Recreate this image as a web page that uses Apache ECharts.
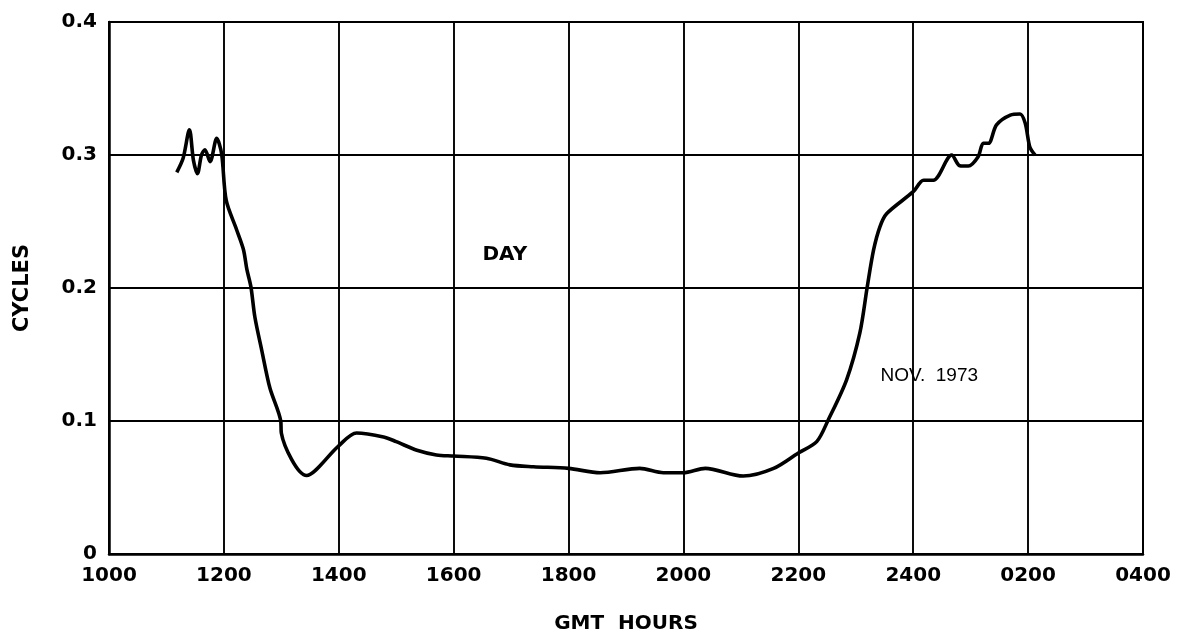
<!DOCTYPE html>
<html>
<head>
<meta charset="utf-8">
<script src="https://cdn.jsdelivr.net/npm/echarts@6/dist/echarts.min.js"></script>
<style>
html,body{margin:0;padding:0;background:#fff;}
#chart{width:1180px;height:642px;}
</style>
</head>
<body>
<div id="chart"></div>
<script>
// GMT hours (10 = 1000, 24 = 2400, 26 = 0200 next day)
const hours = [11.18, 11.29, 11.40, 11.47, 11.54, 11.61, 11.67, 11.76, 11.875, 11.96,
  12.04, 12.22, 12.34, 12.40, 12.47, 12.54, 12.66, 12.80, 12.99, 13.00,
  13.44, 13.99, 14.31, 14.78, 15.00, 15.36, 15.70, 16.00, 16.57, 16.98,
  17.39, 18.00, 18.55, 19.24, 19.65, 20.00, 20.38, 21.04, 21.57, 22.00,
  22.32, 22.52, 22.84, 23.07, 23.20, 23.31, 23.42, 23.54, 24.00, 24.18,
  24.35, 24.67, 24.81, 24.96, 25.13, 25.22, 25.31, 25.45, 25.69, 25.86,
  25.95, 26.03, 26.12];
const cycles = [0.287, 0.2975, 0.319, 0.296, 0.286, 0.300, 0.304, 0.295, 0.3125, 0.301,
  0.266, 0.244, 0.229, 0.214, 0.201, 0.178, 0.153, 0.125, 0.100, 0.091,
  0.059, 0.081, 0.091, 0.088, 0.0845, 0.078, 0.0745, 0.0737, 0.072, 0.067,
  0.0656, 0.0644, 0.0611, 0.0644, 0.0611, 0.0611, 0.0644, 0.0586, 0.0644, 0.076,
  0.0845, 0.1008, 0.131, 0.166, 0.201, 0.2286, 0.246, 0.256, 0.2724, 0.281,
  0.281, 0.300, 0.292, 0.2917, 0.2987, 0.3088, 0.3088, 0.3226, 0.330, 0.3308,
  0.3238, 0.306, 0.300];
const xTickLabels = ['1000','1200','1400','1600','1800','2000','2200','2400','0200','0400'];
const yTickLabels = ['0','0.1','0.2','0.3','0.4'];
const annotations = [
  {text: 'DAY', x: 16.89, y: 0.225},
  {text: 'NOV.  1973', x: 24.28, y: 0.134}
];

const chart = echarts.init(document.getElementById('chart'), null, {renderer: 'canvas'});
const FONT = 'DejaVu Sans';
const seriesData = hours.map((h, i) => [h, cycles[i]]);

chart.setOption({
  backgroundColor: '#fff',
  animation: false,
  grid: {left: 109, right: 37, top: 22, bottom: 88, show: true, borderColor: '#000', borderWidth: 2, backgroundColor: 'transparent'},
  xAxis: {
    type: 'value', min: 10, max: 28, interval: 2,
    name: 'GMT  HOURS', nameLocation: 'middle', nameGap: 60,
    nameTextStyle: {fontFamily: FONT, fontWeight: 'bold', fontSize: 20, color: '#000'},
    axisLine: {show: true, lineStyle: {color: '#000', width: 2.5}},
    axisTick: {show: false},
    axisLabel: {
      fontFamily: FONT, fontWeight: 'bold', fontSize: 20, color: '#000', margin: 12,
      formatter: v => xTickLabels[Math.round((v - 10) / 2)]
    },
    splitLine: {show: true, lineStyle: {color: '#000', width: 1.9}}
  },
  yAxis: {
    type: 'value', min: 0, max: 0.4, interval: 0.1,
    name: 'CYCLES', nameLocation: 'middle', nameGap: 76,
    nameTextStyle: {fontFamily: FONT, fontWeight: 'bold', fontSize: 21, color: '#000'},
    axisLine: {show: true, lineStyle: {color: '#000', width: 2.5}},
    axisTick: {show: false},
    axisLabel: {
      fontFamily: FONT, fontWeight: 'bold', fontSize: 20, color: '#000', margin: 12,
      formatter: v => yTickLabels[Math.round(v * 10)]
    },
    splitLine: {show: true, lineStyle: {color: '#000', width: 1.9}}
  },
  series: [{
    type: 'line',
    data: seriesData,
    smooth: 0.3,
    showSymbol: false,
    symbol: 'none',
    lineStyle: {color: '#000', width: 3.6},
    z: 5,
    markPoint: {
      symbol: 'circle', symbolSize: 0,
      data: annotations.map((a, i) => ({
        coord: [a.x, a.y],
        label: {
          show: true, formatter: a.text, position: 'inside', color: '#000',
          fontFamily: i === 0 ? FONT : 'Liberation Sans',
          fontWeight: i === 0 ? 'bold' : 'normal',
          fontSize: i === 0 ? 20 : 19
        }
      }))
    }
  }]
});
</script>
</body>
</html>
